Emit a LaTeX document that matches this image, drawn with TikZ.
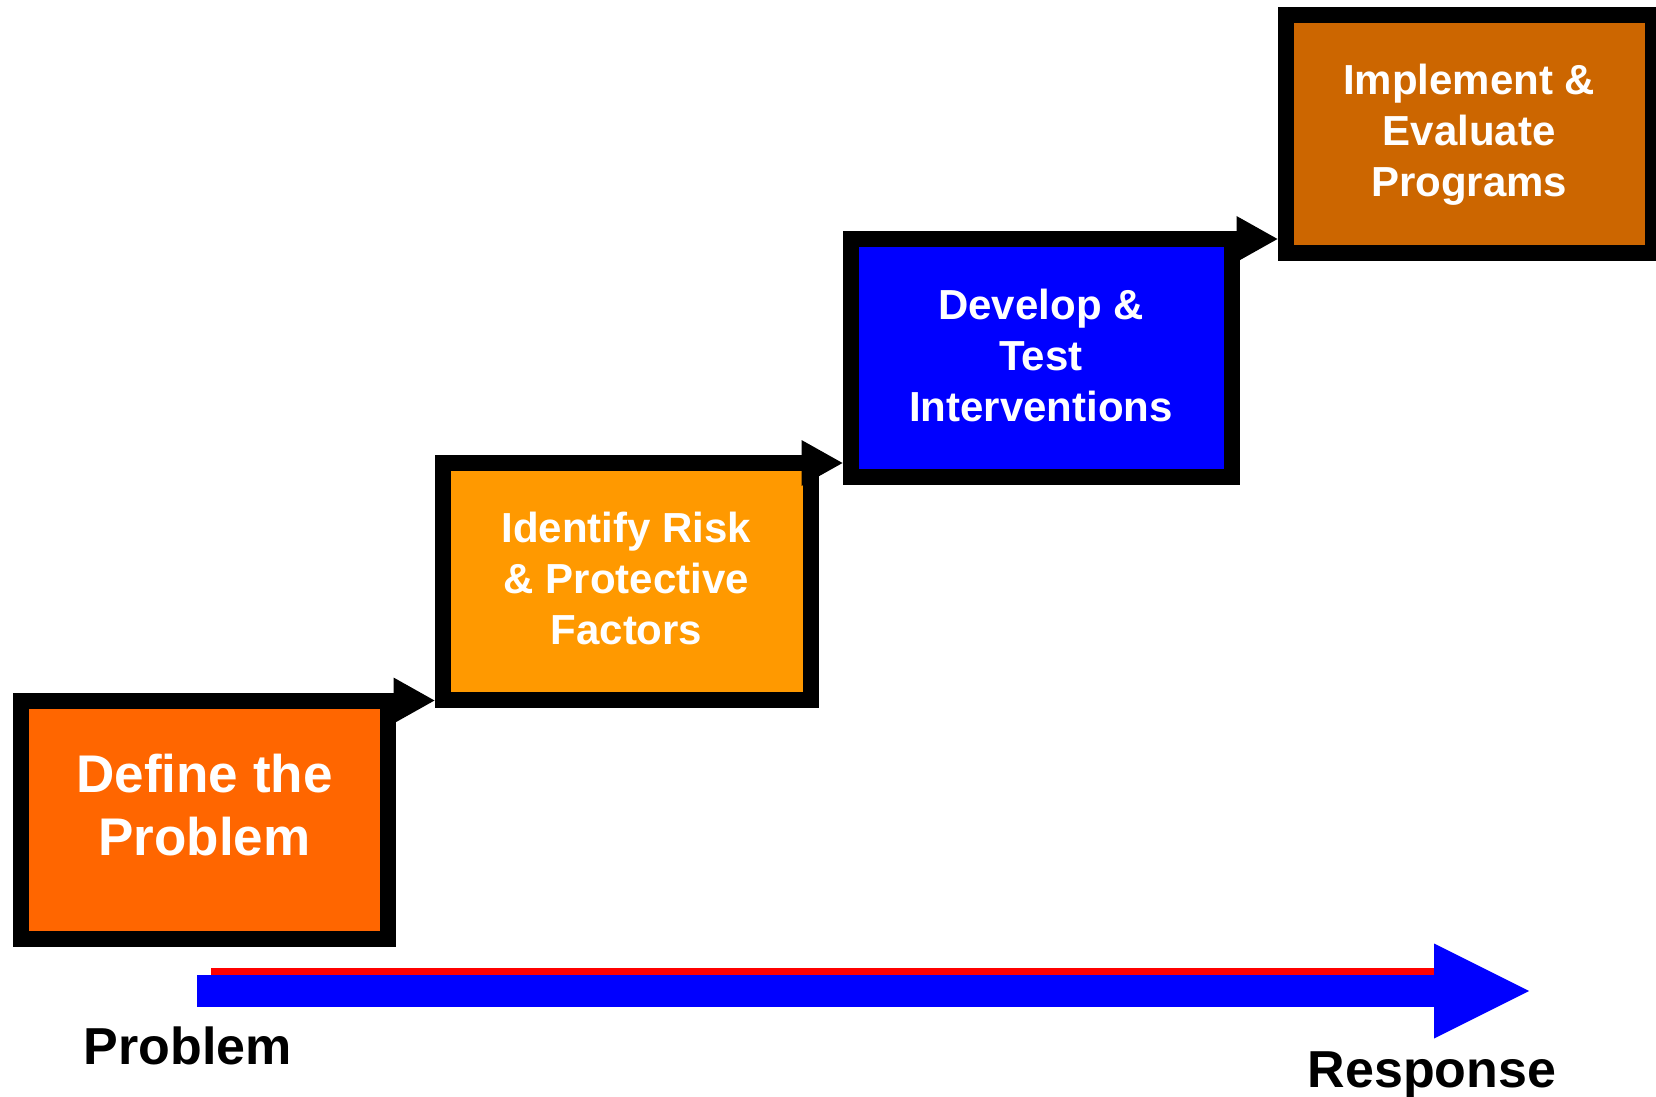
\documentclass[tikz,border=0pt]{standalone}
\usepackage{fontspec}
\setmainfont{Liberation Sans}
\usetikzlibrary{arrows.meta}
\definecolor{cone}{HTML}{FF6600}
\definecolor{ctwo}{HTML}{FF9900}
\definecolor{cthree}{HTML}{0000FF}
\definecolor{cfour}{HTML}{CC6600}
\definecolor{lred}{HTML}{FF0000}
\definecolor{lblue}{HTML}{0000FF}
\begin{document}
\begin{tikzpicture}[x=0.5pt,y=-0.5pt,
  stepbox/.style={draw=black, line width=8pt, outer sep=0pt, inner sep=0pt, rectangle},
  boxtext/.style={text=white, font=\bfseries\fontsize{21pt}{25.5pt}\selectfont, align=center, inner sep=0pt},
  bigtext/.style={text=white, font=\bfseries\fontsize{26.5pt}{31.5pt}\selectfont, align=center, inner sep=0pt},
  conn/.style={draw=black, line width=8pt, -{Triangle[length=20.5pt,width=23pt,line width=0pt]}, shorten >=4pt},
  axislabel/.style={font=\bfseries\fontsize{26pt}{31pt}\selectfont, anchor=base, inner sep=0pt}]
\useasboundingbox (0,0) rectangle (1656,1097);
\fill[white] (0,0) rectangle (1656,1097);

% boxes
\node[stepbox, fill=cone, minimum width=183.5pt, minimum height=119.25pt] (b1) at (204.5,819.75) {};
\node[stepbox, fill=ctwo, minimum width=184pt, minimum height=118.5pt] (b2) at (626.5,581.5) {};
\node[stepbox, fill=cthree, minimum width=190.5pt, minimum height=119pt] (b3) at (1041,358) {};
\node[stepbox, fill=cfour, minimum width=183.75pt, minimum height=119pt] (b4) at (1469.25,134) {};

% box texts
\node[bigtext] (t1) at ([yshift=7.5pt]b1.center) {Define the\\Problem};
\node[boxtext] (t2) at ([yshift=1.5pt]b2.center) {Identify Risk\\\& Protective\\Factors};
\node[boxtext] (t3) at ([yshift=1.25pt]b3.center) {Develop \&\\Test\\Interventions};
\node[boxtext] (t4) at ([yshift=-0.5pt]b4.center) {Implement \&\\Evaluate\\Programs};

% step connectors
\draw[conn] (b1.north east) -- (b1.north east -| b2.west);
\draw[conn] (b2.north east) -- (b2.north east -| b3.west);
\draw[conn] (b3.north east) -- (b3.north east -| b4.west);

% bottom axis arrow
\coordinate (rs) at (211,971.5);
\coordinate (re) at (1434,971.5);
\coordinate (ps) at (197,991);
\coordinate (pe) at (1529,991);
\draw[lred, line width=3.5pt] (rs) -- (re);
\draw[lblue, line width=16pt, -{Triangle[length=47.5pt,width=47.5pt,line width=0pt]}] (ps) -- (pe);

% axis labels
\node[axislabel] (lp) at (188,1064) {Problem};
\node[axislabel] (lr) at (1432,1087) {Response};
\end{tikzpicture}
\end{document}
